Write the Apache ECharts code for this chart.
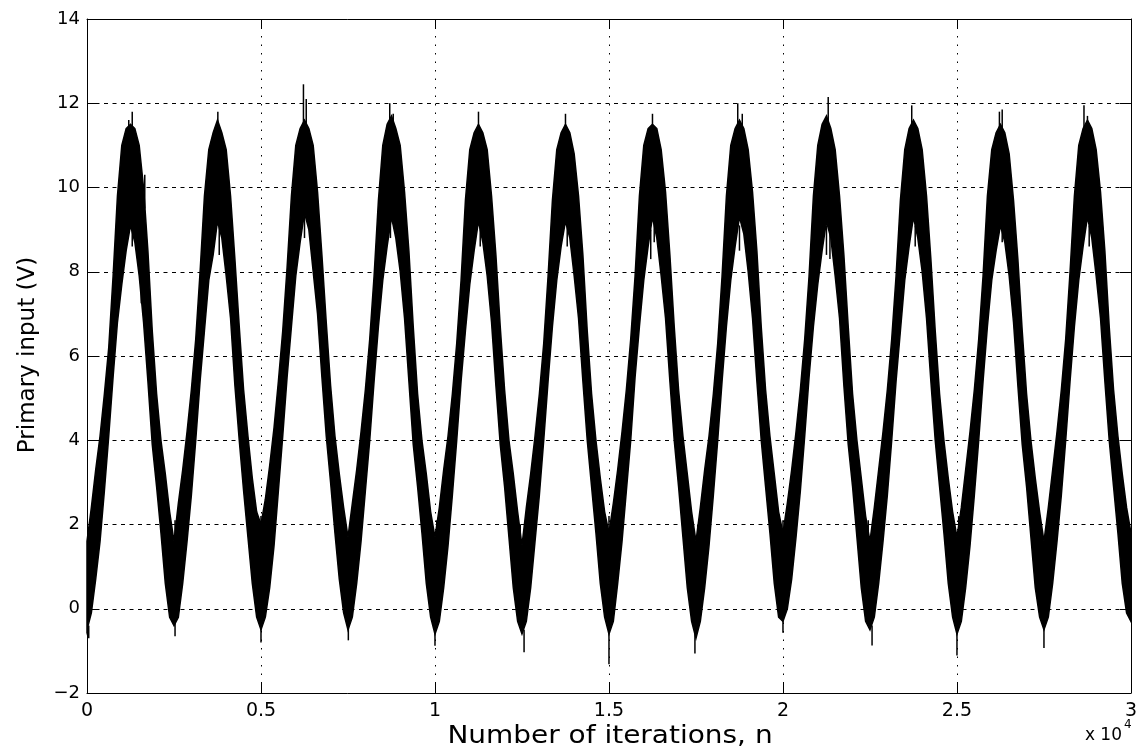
<!DOCTYPE html>
<html>
<head>
<meta charset="utf-8">
<script src="https://cdn.jsdelivr.net/npm/echarts@6/dist/echarts.min.js"></script>
<style>
html,body{margin:0;padding:0;background:#fff;}
#chart{width:1140px;height:749px;}
</style>
</head>
<body>
<div id="chart"></div>
<script>
// ---- data ----
const sampleStep = 125; // iterations between envelope samples
const xTickLabels = ['0', '0.5', '1', '1.5', '2', '2.5', '3'];
const yTickLabels = ['\u22122', '0', '2', '4', '6', '8', '10', '12', '14'];
const xAxisTitle = 'Number of iterations, n';
const yAxisTitle = 'Primary input (V)';
const xScaleNote = 'x 10';
const xScaleExp = '4';

// upper edge of the noisy band (V), one value every 125 iterations, 0..30000
const bandUpper = [
  1.6, 2.4, 3.3, 4.1, 5.1, 6.2, 7.9, 9.8, 11.0, 11.4, 11.5, 11.4, 11.0, 10.0, 8.5, 6.6, 5.1, 4.0, 3.2, 2.3,
  1.6, 2.5, 3.3, 4.2, 5.2, 6.4, 8.0, 9.8, 10.9, 11.3, 11.6, 11.3, 10.9, 9.8, 8.3, 6.7, 5.2, 4.1, 3.1, 2.3,
  2.0, 2.6, 3.4, 4.3, 5.4, 6.6, 8.1, 9.8, 11.0, 11.4, 11.6, 11.4, 11.0, 9.9, 8.4, 6.8, 5.3, 4.1, 3.2, 2.4,
  1.7, 2.5, 3.3, 4.2, 5.2, 6.4, 7.9, 9.7, 11.0, 11.5, 11.7, 11.4, 11.0, 9.9, 8.5, 6.7, 5.1, 4.0, 3.2, 2.3,
  1.7, 2.4, 3.3, 4.1, 5.1, 6.3, 7.8, 9.7, 10.9, 11.3, 11.5, 11.3, 10.9, 9.8, 8.4, 6.7, 5.2, 4.0, 3.2, 2.3,
  1.5, 2.4, 3.2, 4.1, 5.1, 6.3, 7.9, 9.7, 10.9, 11.3, 11.5, 11.3, 10.8, 9.8, 8.4, 6.6, 5.1, 4.0, 3.1, 2.3,
  1.8, 2.5, 3.3, 4.2, 5.2, 6.4, 7.9, 9.8, 11.0, 11.4, 11.5, 11.4, 10.9, 9.9, 8.4, 6.7, 5.2, 4.1, 3.2, 2.3,
  1.6, 2.4, 3.3, 4.1, 5.1, 6.3, 7.9, 9.8, 11.0, 11.4, 11.6, 11.4, 10.9, 9.9, 8.5, 6.7, 5.2, 4.1, 3.2, 2.3,
  1.8, 2.5, 3.3, 4.2, 5.2, 6.4, 7.9, 9.8, 11.0, 11.5, 11.7, 11.4, 10.9, 9.8, 8.4, 6.7, 5.1, 4.0, 3.1, 2.2,
  1.6, 2.4, 3.3, 4.2, 5.2, 6.4, 7.9, 9.7, 10.9, 11.4, 11.6, 11.4, 10.9, 9.8, 8.3, 6.6, 5.1, 4.0, 3.1, 2.3,
  1.7, 2.4, 3.3, 4.2, 5.2, 6.4, 7.9, 9.8, 10.9, 11.3, 11.5, 11.3, 10.8, 9.7, 8.3, 6.6, 5.1, 4.0, 3.1, 2.3,
  1.6, 2.4, 3.3, 4.2, 5.2, 6.4, 8.0, 9.8, 11.0, 11.4, 11.6, 11.4, 10.9, 9.9, 8.5, 6.7, 5.2, 4.1, 3.2, 2.4,
  1.8
];

// lower edge of the noisy band (V), same sampling
const bandLower = [
  -0.5, -0.1, 0.7, 1.6, 2.8, 4.1, 5.5, 6.8, 7.7, 8.5, 9.1, 8.7, 7.9, 6.8, 5.4, 3.9, 2.9, 1.8, 0.6, -0.2,
  -0.4, -0.2, 0.6, 1.6, 2.7, 4.0, 5.4, 6.6, 7.8, 8.4, 9.2, 8.8, 7.9, 6.9, 5.3, 4.0, 2.8, 1.7, 0.6, -0.2,
  -0.5, -0.2, 0.5, 1.5, 2.8, 4.1, 5.5, 6.7, 7.9, 8.7, 9.4, 9.0, 8.0, 7.0, 5.5, 4.1, 3.0, 1.8, 0.7, -0.1,
  -0.5, -0.2, 0.6, 1.6, 2.8, 4.0, 5.4, 6.7, 7.8, 8.6, 9.3, 8.8, 8.0, 6.9, 5.4, 3.9, 2.9, 1.8, 0.6, -0.2,
  -0.6, -0.3, 0.5, 1.5, 2.7, 4.0, 5.4, 6.6, 7.7, 8.5, 9.2, 8.7, 7.9, 6.8, 5.3, 3.9, 2.9, 1.7, 0.5, -0.3,
  -0.6, -0.3, 0.5, 1.6, 2.7, 4.0, 5.4, 6.7, 7.8, 8.6, 9.2, 8.8, 7.9, 6.9, 5.4, 4.0, 2.9, 1.8, 0.6, -0.2,
  -0.6, -0.3, 0.6, 1.6, 2.8, 4.0, 5.5, 6.7, 7.8, 8.6, 9.3, 8.8, 7.9, 6.9, 5.4, 4.0, 2.9, 1.7, 0.5, -0.3,
  -0.7, -0.3, 0.5, 1.5, 2.7, 4.0, 5.4, 6.7, 7.8, 8.6, 9.3, 8.9, 8.0, 6.9, 5.4, 4.0, 2.9, 1.8, 0.6, -0.2,
  -0.3, 0.0, 0.7, 1.7, 2.8, 4.1, 5.5, 6.7, 7.7, 8.5, 9.2, 8.8, 7.9, 6.9, 5.3, 3.9, 2.9, 1.7, 0.5, -0.3,
  -0.5, -0.2, 0.6, 1.6, 2.7, 4.0, 5.4, 6.6, 7.8, 8.6, 9.3, 8.8, 8.0, 6.9, 5.4, 4.0, 2.9, 1.8, 0.6, -0.2,
  -0.6, -0.3, 0.5, 1.5, 2.7, 4.0, 5.4, 6.7, 7.8, 8.5, 9.1, 8.7, 7.9, 6.8, 5.3, 3.9, 2.9, 1.7, 0.5, -0.2,
  -0.5, -0.2, 0.6, 1.6, 2.7, 4.0, 5.4, 6.7, 7.8, 8.6, 9.3, 8.8, 7.9, 6.9, 5.4, 4.0, 2.9, 1.8, 0.6, -0.1,
  -0.3
];

// isolated noise spikes: [iteration, from (V), to (V)]
const spikeIter = [1200, 1300, 3760, 6220, 6300, 8700, 8800, 11250, 13750, 16250, 18700, 18830, 21300, 23700, 26220, 26300, 28650, 28750,
  50, 2530, 5000, 7510, 10000, 12560, 15000, 17470, 20000, 22560, 25000, 27500,
  1300, 1560, 1660, 3800, 3650, 6250, 8720, 11300, 13800, 16300, 16200, 18750, 21250, 21350, 23800, 26300, 28800,
  2530, 5000, 7450, 10050, 12450, 15000, 17550, 20000, 22450, 25050, 27600];
const spikeFrom = [11.0, 11.2, 11.3, 11.2, 11.3, 11.3, 11.3, 11.2, 11.3, 11.3, 11.3, 11.2, 11.2, 11.2, 11.2, 11.3, 11.3, 11.2,
  -0.4, -0.3, -0.4, -0.4, -0.5, -0.5, -0.5, -0.6, -0.2, -0.4, -0.5, -0.4,
  9.1, 8.0, 9.5, 9.2, 9.0, 9.3, 9.2, 9.1, 9.2, 9.2, 9.0, 9.1, 9.1, 9.0, 9.1, 9.2, 9.1,
  1.6, 1.7, 1.6, 1.6, 1.5, 1.6, 1.6, 1.7, 1.6, 1.6, 1.6];
const spikeTo = [11.6, 11.8, 11.8, 12.45, 12.1, 12.0, 11.75, 11.8, 11.75, 11.75, 12.0, 11.75, 12.15, 11.95, 11.8, 11.85, 11.95, 11.7,
  -0.7, -0.65, -0.8, -0.75, -0.88, -1.03, -1.32, -1.06, -0.57, -0.87, -1.11, -0.93,
  8.6, 7.25, 10.3, 8.4, 8.7, 8.8, 8.8, 8.6, 8.6, 8.7, 8.3, 8.5, 8.4, 8.3, 8.6, 8.7, 8.6,
  2.1, 2.2, 2.0, 2.1, 2.0, 2.2, 2.0, 2.1, 2.1, 2.2, 2.0];

// ---- chart ----
const bandRows = bandUpper.map((u, i) => [i * sampleStep, bandLower[i], u]);
const spikeRows = spikeIter.map((n, i) => [n, spikeFrom[i], spikeTo[i]]);

const FONT = '"DejaVu Sans", "Liberation Sans", Arial, sans-serif';
const chart = echarts.init(document.getElementById('chart'), null, { renderer: 'canvas' });

const axisLineStyle = { show: true, onZero: false, lineStyle: { color: '#000', width: 1 } };

chart.setOption({
  animation: false,
  backgroundColor: '#fff',
  grid: { left: 87, right: 8, top: 19, bottom: 56, containLabel: false },
  xAxis: [
    {
      type: 'value', position: 'bottom', min: 0, max: 30000, interval: 5000,
      axisLine: axisLineStyle,
      axisTick: { show: true, inside: true, length: 10, lineStyle: { color: '#000' } },
      axisLabel: {
        show: true, margin: 9, color: '#000', fontFamily: FONT, fontSize: 19,
        formatter: (v) => xTickLabels[Math.round(v / 5000)]
      },
      splitLine: { show: true, lineStyle: { color: '#000', width: 1, type: [1.5, 7] } }
    },
    {
      type: 'value', position: 'top', min: 0, max: 30000, interval: 5000,
      axisLine: axisLineStyle,
      axisTick: { show: true, inside: true, length: 10, lineStyle: { color: '#000' } },
      axisLabel: { show: false }, splitLine: { show: false }
    }
  ],
  yAxis: [
    {
      type: 'value', position: 'left', min: -2, max: 14, interval: 2,
      axisLine: axisLineStyle,
      axisTick: { show: true, inside: true, length: 11, lineStyle: { color: '#000' } },
      axisLabel: {
        show: true, margin: 7, color: '#000', fontFamily: FONT, fontSize: 18,
        formatter: (v) => yTickLabels[Math.round((v + 2) / 2)]
      },
      splitLine: { show: true, lineStyle: { color: '#000', width: 1, type: [4, 4.5] } }
    },
    {
      type: 'value', position: 'right', min: -2, max: 14, interval: 2,
      axisLine: axisLineStyle,
      axisTick: { show: true, inside: true, length: 11, lineStyle: { color: '#000' } },
      axisLabel: { show: false }, splitLine: { show: false }
    }
  ],
  graphic: [
    { type: 'text', x: 610, y: 737, scaleX: 1.165,
      style: { text: xAxisTitle, font: '24px ' + FONT, fill: '#000', textAlign: 'center', textVerticalAlign: 'middle' } },
    { type: 'text', x: 28, y: 355, rotation: Math.PI / 2,
      style: { text: yAxisTitle, font: '23px ' + FONT, fill: '#000', textAlign: 'center', textVerticalAlign: 'middle' } },
    { type: 'text', x: 1122, y: 736,
      style: { text: xScaleNote, font: '17px ' + FONT, fill: '#000', textAlign: 'right', textVerticalAlign: 'middle' } },
    { type: 'text', x: 1124, y: 725,
      style: { text: xScaleExp, font: '12px ' + FONT, fill: '#000', textAlign: 'left', textVerticalAlign: 'middle' } }
  ],
  series: [
    {
      type: 'custom',
      name: 'band',
      xAxisIndex: 0, yAxisIndex: 0,
      data: bandRows,
      renderItem: function (params, api) {
        if (params.dataIndex !== 0) return null;
        const pts = [];
        for (let i = 0; i < bandRows.length; i++) pts.push(api.coord([bandRows[i][0], bandRows[i][2]]));
        for (let i = bandRows.length - 1; i >= 0; i--) pts.push(api.coord([bandRows[i][0], bandRows[i][1]]));
        return { type: 'polygon', shape: { points: pts }, style: { fill: '#000', stroke: '#000', lineWidth: 1.5, lineJoin: 'miter' } };
      },
      silent: true
    },
    {
      type: 'custom',
      name: 'spikes',
      xAxisIndex: 0, yAxisIndex: 0,
      data: spikeRows,
      renderItem: function (params, api) {
        const a = api.coord([api.value(0), api.value(1)]);
        const b = api.coord([api.value(0), api.value(2)]);
        return { type: 'line', shape: { x1: a[0], y1: a[1], x2: b[0], y2: b[1] }, style: { stroke: '#000', lineWidth: 1.5 } };
      },
      silent: true
    }
  ]
});
</script>
</body>
</html>
